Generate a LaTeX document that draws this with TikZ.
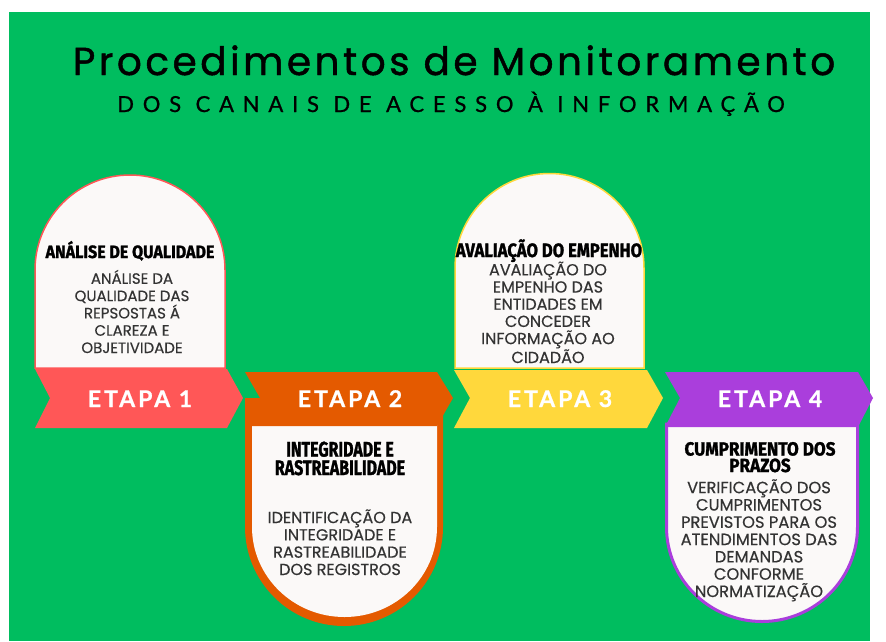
\documentclass[tikz,border=0pt]{standalone}
\usepackage{fontspec}
\usepackage{graphicx}
\setmainfont{Lato}
\newfontfamily\titlefont{Poppins}[LetterSpace=9, FakeBold=1.2]
\newfontfamily\subfont{Lato}[LetterSpace=40, FakeBold=0.8]
\newfontfamily\bodyfont{Poppins}[FakeBold=0.4]
\newfontfamily\headfont{Fira Sans}[FakeBold=1.5]
\newfontfamily\etapafont{Lato}[LetterSpace=13, FakeBold=0.8]
\definecolor{bggreen}{HTML}{00BD5F}
\definecolor{cred}{HTML}{FF5757}
\definecolor{corange}{HTML}{E45A00}
\definecolor{cyellow}{HTML}{FFD83C}
\definecolor{cpurple}{HTML}{AA3EDC}
\definecolor{boxwhite}{HTML}{FBF9F8}
\definecolor{bodygray}{HTML}{333333}
\newcommand\hsq[2]{\scalebox{#1}[1]{#2}}
\begin{document}
\begin{tikzpicture}[x=1pt,y=-1pt,
  etapa/.style={anchor=base, text=white, inner sep=0pt, font=\etapafont\bfseries\fontsize{23}{23}\selectfont},
  head/.style={anchor=base, align=center, inner sep=0pt, text=black},
  body/.style={anchor=base, align=center, inner sep=0pt, text=bodygray}]
\useasboundingbox (0,0) rectangle (886,641);
\fill[white] (0,0) rectangle (886,641);
\fill[bggreen] (9,12) rectangle (870,641);

% step 1
\draw[cred, line width=1.5pt, fill=boxwhite] (35,368) -- (35,270) arc[start angle=180, end angle=0, radius=95pt] -- (225,368) -- cycle;
\fill[cred] (35,369) -- (227,369) -- (243,398) -- (227,428) -- (35,428) -- (50,398) -- cycle;
% step 2
\fill[corange] (245,398) -- (245,527) arc[start angle=180, end angle=360, x radius=99pt, y radius=99pt] -- (443,398) -- cycle;
\fill[boxwhite] (252,424) -- (252,527) arc[start angle=180, end angle=360, x radius=92.5pt, y radius=90pt] -- (437,424) -- cycle;
\fill[corange] (245,372) -- (437,372) -- (453,398) -- (437,426) -- (245,426) -- (260,398) -- cycle;
% step 3
\draw[cyellow, line width=1.5pt, fill=boxwhite] (455,368) -- (455,268) arc[start angle=180, end angle=0, radius=94.5pt] -- (644,368) -- cycle;
\fill[cyellow] (454,370) -- (647,370) -- (663,398) -- (647,428) -- (454,428) -- (470,398) -- cycle;
% step 4
\draw[cpurple, line width=3pt, fill=boxwhite] (666.5,424) -- (666.5,527) arc[start angle=180, end angle=360, x radius=95.5pt, y radius=94.5pt] -- (857.5,424) -- cycle;
\fill[cpurple] (665,372) -- (858,372) -- (873,398) -- (858,427) -- (665,427) -- (680,398) -- cycle;

% titles
\node[anchor=base, inner sep=0pt, font=\titlefont\fontsize{39}{39}\selectfont] (title) at (454,75) {Procedimentos de Monitoramento};
\node[anchor=base, inner sep=0pt, font=\subfont\fontsize{22}{22}\selectfont] (subtitle) at (451,112) {DOS CANAIS DE ACESSO À INFORMAÇÃO};

% etapas
\node[etapa] (e1) at (140,407) {ETAPA 1};
\node[etapa] (e2) at (350,407) {ETAPA 2};
\node[etapa] (e3) at (560,407) {ETAPA 3};
\node[etapa] (e4) at (770,407) {ETAPA 4};

% headers
\node[head, font=\headfont\bfseries\fontsize{17.8}{18}\selectfont] (h1) at (130,258) {\hsq{0.9}{ANÁLISE DE QUALIDADE}};
\node[head, font=\headfont\bfseries\fontsize{21}{18.5}\selectfont] (h2a) at (340,456.5) {\hsq{0.76}{INTEGRIDADE E}};
\node[head, font=\headfont\bfseries\fontsize{21}{18.5}\selectfont] (h2b) at (340,475) {\hsq{0.76}{RASTREABILIDADE}};
\node[head, font=\headfont\bfseries\fontsize{19.3}{18}\selectfont] (h3) at (549,257) {\hsq{0.86}{AVALIAÇÃO DO EMPENHO}};
\node[head, font=\headfont\bfseries\fontsize{19}{16.5}\selectfont] (h4a) at (760,455.5) {\hsq{0.9}{CUMPRIMENTO DOS}};
\node[head, font=\headfont\bfseries\fontsize{19}{16.5}\selectfont] (h4b) at (760,472) {\hsq{0.9}{PRAZOS}};

% bodies (anchor base = last line baseline)
\node[body, font=\bodyfont\fontsize{15}{17.3}\selectfont] (b1) at (132,353) {ANÁLISE DA\\QUALIDADE DAS\\REPSOSTAS Á\\CLAREZA E\\OBJETIVIDADE};
\node[body, font=\bodyfont\fontsize{16}{17.3}\selectfont] (b2) at (340,575) {IDENTIFICAÇÃO DA\\INTEGRIDADE E\\RASTREABILIDADE\\DOS REGISTROS};
\node[body, font=\bodyfont\fontsize{16}{17.2}\selectfont] (b3) at (548,363) {AVALIAÇÃO DO\\EMPENHO DAS\\ENTIDADES EM\\CONCEDER\\INFORMAÇÃO AO\\CIDADÃO};
\node[body, font=\bodyfont\fontsize{16.3}{17.3}\selectfont] (b4) at (759,597) {VERIFICAÇÃO DOS\\CUMPRIMENTOS\\PREVISTOS PARA OS\\ATENDIMENTOS DAS\\DEMANDAS\\CONFORME\\NORMATIZAÇÃO};
\end{tikzpicture}
\end{document}
